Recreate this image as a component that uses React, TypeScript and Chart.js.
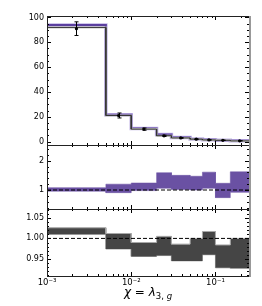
import React, { useEffect, useRef } from "react";
import { Chart, registerables } from "chart.js";

Chart.register(...registerables);

const binEdges = [0.001, 0.005, 0.01, 0.02, 0.03, 0.05, 0.07, 0.1, 0.15, 0.25];
const purpleHist = [94, 21.6, 10.6, 5.6, 3.3, 2.1, 1.4, 1.0, 0.6];
const grayHist = [92, 21.0, 10.0, 4.7, 2.9, 1.9, 1.3, 0.95, 0.5];
const dataVals = [91, 21, 10, 4.6, 2.9, 1.9, 1.3, 1.0, 0.6];
const dataErr = [5.5, 2, 0.9, 0.5, 0.35, 0.25, 0.2, 0.15, 0.12];
const ratioLo = [0.96, 0.91, 0.98, 1.06, 1.02, 1.0, 1.06, 0.74, 0.92];
const ratioHi = [1.08, 1.2, 1.24, 1.59, 1.5, 1.47, 1.61, 1.23, 1.62];
const ratio2Lo = [1.01, 0.974, 0.956, 0.958, 0.945, 0.945, 0.96, 0.928, 0.927];
const ratio2Hi = [1.026, 1.012, 0.99, 1.005, 0.986, 1.0, 1.017, 0.984, 1.0];

const xMajorTicks = [0.001, 0.01, 0.1];
const xTickLabels = ["10\u207B\u00B3", "10\u207B\u00B2", "10\u207B\u00B9"];
const topTicks = [0, 20, 40, 60, 80, 100];
const midTicks = [1, 2];
const botTicks = [0.95, 1.0, 1.05];

const PURPLE = "#6a51a3";

function steps(vals: number[]) {
  const pts: { x: number; y: number }[] = [];
  vals.forEach((v, i) => {
    pts.push({ x: binEdges[i], y: v });
    pts.push({ x: binEdges[i + 1], y: v });
  });
  return pts;
}

function range(a: number, b: number, s: number) {
  const out: number[] = [];
  for (let v = a; v <= b + 1e-9; v += s) out.push(Math.round(v * 1e6) / 1e6);
  return out;
}

const FONT = "DejaVu Sans";

const panelPlugin = {
  id: "panels",
  afterDatasetsDraw(chart: any) {
    const ctx = chart.ctx;
    const ys = chart.scales.yTop;
    ctx.save();
    ctx.strokeStyle = "#000";
    ctx.lineWidth = 1;
    dataVals.forEach((v, i) => {
      const xc = Math.sqrt(binEdges[i] * binEdges[i + 1]);
      const px = Math.round(chart.scales.x.getPixelForValue(xc)) + 0.5;
      const y1 = ys.getPixelForValue(v - dataErr[i]);
      const y2 = ys.getPixelForValue(v + dataErr[i]);
      ctx.beginPath();
      ctx.moveTo(px, y1);
      ctx.lineTo(px, y2);
      ctx.moveTo(px - 2, y1);
      ctx.lineTo(px + 2, y1);
      ctx.moveTo(px - 2, y2);
      ctx.lineTo(px + 2, y2);
      ctx.stroke();
    });
    ctx.restore();
  },
  afterDraw(chart: any) {
    const ctx = chart.ctx;
    const area = chart.chartArea;
    const xs = chart.scales.x;
    const panels = [
      { s: chart.scales.yTop, maj: topTicks, min: range(0, 100, 5) },
      { s: chart.scales.yMid, maj: midTicks, min: range(0.4, 2.4, 0.2) },
      { s: chart.scales.yBot, maj: botTicks, min: range(0.91, 1.07, 0.01) },
    ];
    const xMinor: number[] = [];
    for (let d = -3; d <= -1; d++) {
      for (let k = 2; k <= 9; k++) {
        const v = k * Math.pow(10, d);
        if (v <= 0.25) xMinor.push(v);
      }
    }
    ctx.save();
    ctx.lineWidth = 1;
    panels.forEach((p) => {
      const top = p.s.top;
      const bot = p.s.bottom;
      ctx.strokeStyle = "#000";
      ctx.beginPath();
      p.min.forEach((v: number) => {
        const y = Math.round(p.s.getPixelForValue(v)) + 0.5;
        if (y < top || y > bot) return;
        ctx.moveTo(area.left, y);
        ctx.lineTo(area.left + 2, y);
        ctx.moveTo(area.right, y);
        ctx.lineTo(area.right - 2, y);
      });
      p.maj.forEach((v: number) => {
        const y = Math.round(p.s.getPixelForValue(v)) + 0.5;
        ctx.moveTo(area.left, y);
        ctx.lineTo(area.left + 4, y);
        ctx.moveTo(area.right, y);
        ctx.lineTo(area.right - 4, y);
      });
      xMinor.forEach((v) => {
        const x = Math.round(xs.getPixelForValue(v)) + 0.5;
        ctx.moveTo(x, top);
        ctx.lineTo(x, top + 2);
        ctx.moveTo(x, bot);
        ctx.lineTo(x, bot - 2);
      });
      xMajorTicks.forEach((v) => {
        const x = Math.round(xs.getPixelForValue(v)) + 0.5;
        ctx.moveTo(x, top);
        ctx.lineTo(x, top + 4);
        ctx.moveTo(x, bot);
        ctx.lineTo(x, bot - 4);
      });
      ctx.stroke();
      ctx.strokeStyle = "#222";
      ctx.strokeRect(
        Math.round(area.left) + 0.5,
        Math.round(top) + 0.5,
        Math.round(area.right - area.left),
        Math.round(bot - top)
      );
    });
    ctx.strokeStyle = "#999";
    ctx.lineWidth = 2;
    ctx.beginPath();
    ctx.moveTo(Math.round(area.right) + 1, area.top);
    ctx.lineTo(Math.round(area.right) + 1, area.bottom + 1);
    ctx.stroke();

    ctx.fillStyle = "#000";
    ctx.textBaseline = "alphabetic";
    const parts = [
      { t: "\u03C7", f: `italic 12px ${FONT}`, dy: 0 },
      { t: " = ", f: `12px ${FONT}`, dy: 0 },
      { t: "\u03BB", f: `italic 12px ${FONT}`, dy: 0 },
      { t: "3, ", f: `8.5px ${FONT}`, dy: 3 },
      { t: "g", f: `italic 8.5px ${FONT}`, dy: 3 },
    ];
    let total = 0;
    parts.forEach((p) => {
      ctx.font = p.f;
      total += ctx.measureText(p.t).width;
    });
    let x = (area.left + area.right) / 2 - total / 2;
    const base = 296;
    parts.forEach((p) => {
      ctx.font = p.f;
      ctx.fillText(p.t, x, base + p.dy);
      x += ctx.measureText(p.t).width;
    });
    ctx.restore();
  },
};

function yAxis(min: number, max: number, weight: number, ticks: number[], fmt: (v: number) => string) {
  return {
    type: "linear",
    position: "left",
    stack: "v",
    stackWeight: weight,
    min,
    max,
    grid: { display: false, drawTicks: false },
    border: { display: false },
    afterBuildTicks: (s: any) => {
      s.ticks = ticks.map((v) => ({ value: v }));
    },
    afterFit: (s: any) => {
      s.width = 47;
    },
    ticks: {
      padding: 3,
      color: "#000",
      font: { family: FONT, size: 8 },
      callback: (v: any) => fmt(Number(v)),
    },
  };
}

export default function App() {
  const ref = useRef<HTMLCanvasElement>(null);
  useEffect(() => {
    if (!ref.current) return;
    const lineBase = { pointRadius: 0, tension: 0, fill: false };
    const chart = new Chart(ref.current, {
      type: "line",
      data: {
        datasets: [
          { ...lineBase, data: steps(purpleHist), borderColor: "#c2b6e6", borderWidth: 3.5, yAxisID: "yTop", order: 6 },
          { ...lineBase, data: steps(purpleHist), borderColor: "#5b3f9f", borderWidth: 2, yAxisID: "yTop", order: 5 },
          { ...lineBase, data: steps(grayHist), borderColor: "#c4c4c4", borderWidth: 2, yAxisID: "yTop", order: 4 },
          { ...lineBase, data: steps(grayHist), borderColor: "#333", borderWidth: 1, yAxisID: "yTop", order: 3 },
          {
            data: dataVals.map((v, i) => ({ x: Math.sqrt(binEdges[i] * binEdges[i + 1]), y: v })),
            showLine: false,
            pointRadius: 1.6,
            pointBackgroundColor: "#000",
            pointBorderWidth: 0,
            yAxisID: "yTop",
            order: 0,
          },
          { ...lineBase, data: steps(ratioHi), fill: "+1", backgroundColor: PURPLE, borderColor: PURPLE, borderWidth: 0.5, yAxisID: "yMid", order: 8 },
          { ...lineBase, data: steps(ratioLo), borderColor: PURPLE, borderWidth: 0.5, yAxisID: "yMid", order: 8 },
          {
            ...lineBase,
            data: [{ x: 0.001, y: 1 }, { x: 0.25, y: 1 }],
            borderColor: "#000",
            borderWidth: 1,
            borderDash: [4, 2],
            yAxisID: "yMid",
            order: 1,
          },
          { ...lineBase, data: steps(ratio2Hi), fill: "+1", backgroundColor: "#454545", borderColor: "#a8a8a8", borderWidth: 1, yAxisID: "yBot", order: 8 },
          { ...lineBase, data: steps(ratio2Lo), borderColor: "#a8a8a8", borderWidth: 1, yAxisID: "yBot", order: 8 },
          {
            ...lineBase,
            data: [{ x: 0.001, y: 1 }, { x: 0.25, y: 1 }],
            borderColor: "#000",
            borderWidth: 1,
            borderDash: [4, 2],
            yAxisID: "yBot",
            order: 1,
          },
        ],
      },
      options: {
        responsive: false,
        animation: false,
        events: [],
        layout: { padding: { top: 16, right: 13, left: 0, bottom: 0 } },
        plugins: { legend: { display: false }, tooltip: { enabled: false } },
        scales: {
          x: {
            type: "logarithmic",
            min: 0.001,
            max: 0.25,
            position: "bottom",
            grid: { display: false, drawTicks: false },
            border: { display: false },
            afterBuildTicks: (s: any) => {
              s.ticks = xMajorTicks.map((v) => ({ value: v }));
            },
            afterFit: (s: any) => {
              s.height = 30;
            },
            ticks: {
              autoSkip: false,
              maxRotation: 0,
              padding: 2,
              color: "#000",
              font: { family: FONT, size: 8.5 },
              callback: (v: any) => {
                const i = xMajorTicks.findIndex((t) => Math.abs(t - Number(v)) < 1e-9);
                return i >= 0 ? xTickLabels[i] : "";
              },
            },
          },
          yBot: yAxis(0.908, 1.072, 67, botTicks, (v) => v.toFixed(2)),
          yMid: yAxis(0.352, 2.536, 64, midTicks, (v) => String(v)),
          yTop: yAxis(-2.8, 101.2, 129, topTicks, (v) => String(v)),
        },
      } as any,
      plugins: [panelPlugin],
    });
    return () => chart.destroy();
  }, []);
  return (
    <div style={{ position: "absolute", left: 0, top: 0, width: 262, height: 306, background: "#fff" }}>
      <canvas ref={ref} width={262} height={306} />
    </div>
  );
}
